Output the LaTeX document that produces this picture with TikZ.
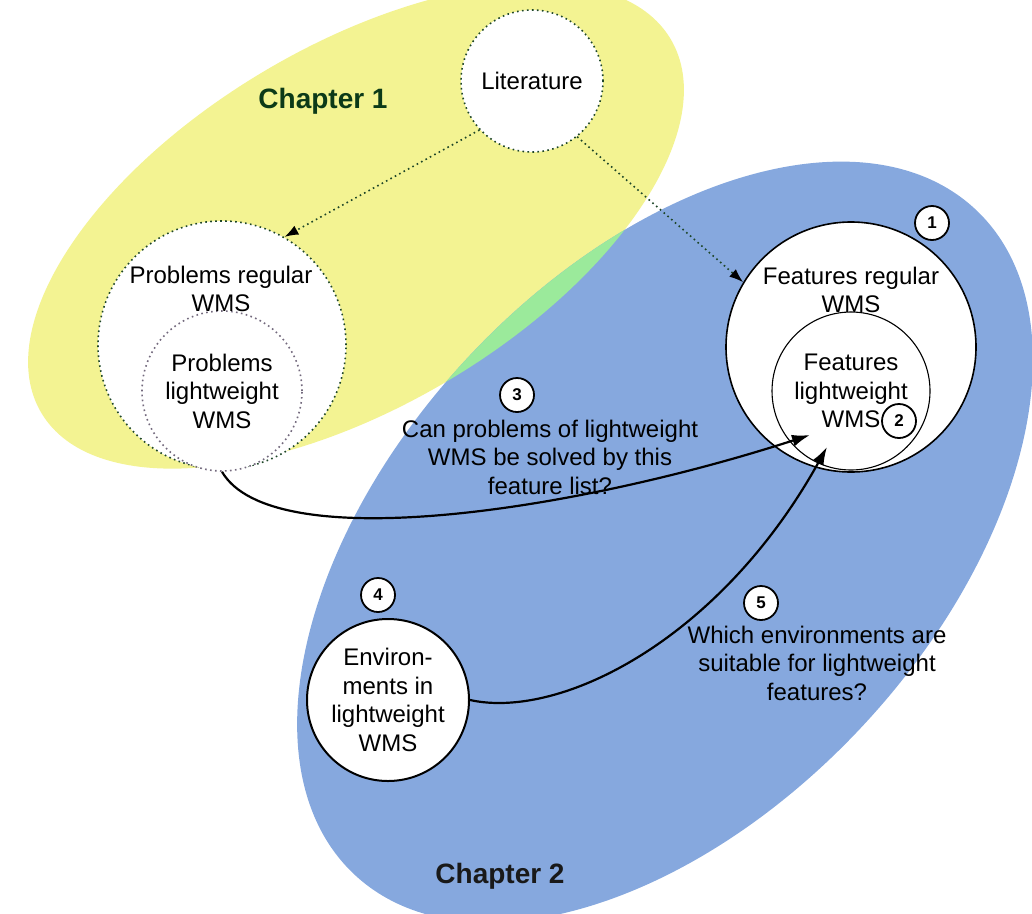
\documentclass[tikz,border=0pt]{standalone}
\usepackage{fontspec}
\setmainfont{Liberation Sans}
\usetikzlibrary{arrows.meta}

\definecolor{chapyellow}{RGB}{243,243,146}
\definecolor{chapblue}{RGB}{134,168,222}
\definecolor{chapgreen}{RGB}{155,234,155}
\definecolor{dotgreen}{RGB}{30,70,40}
\definecolor{dotgrey}{RGB}{115,105,125}
\definecolor{headgreen}{RGB}{12,58,24}

\begin{document}
\begin{tikzpicture}[x=1pt, y=-1pt,
  every node/.style={font=\fontsize{24}{28.5}\selectfont, align=center},
  dotring/.style={circle, draw=dotgreen, line width=1.6pt,
    dash pattern=on 1.6pt off 3.4pt, fill=white, inner sep=0pt},
  greyring/.style={dotring, draw=dotgrey},
  solidring/.style={circle, draw=black, line width=1.6pt, fill=white, inner sep=0pt},
  badge/.style={circle, draw=black, line width=1.8pt, fill=white, inner sep=0pt,
    minimum size=34pt, font=\fontsize{17}{20}\selectfont\bfseries},
  chaplabel/.style={font=\fontsize{28}{32}\selectfont\bfseries},
  dotarrow/.style={draw=dotgreen, line width=1.6pt, dash pattern=on 1.6pt off 3.4pt,
    -{Latex[length=14pt, width=10pt, color=black]}},
  solidarrow/.style={draw=black, line width=2.2pt,
    -{Latex[length=18pt, width=12pt]}},
  yellowarea/.style={rotate around={30.7:(356,226)}},
  bluearea/.style={rotate around={47:(665,542)}}
]
\useasboundingbox (0,0) rectangle (1032,913);

% chapter areas
\begin{scope}
  \clip (0,0) rectangle (1032,913);
  \fill[chapyellow, yellowarea] (356,226) ellipse [x radius=366pt, y radius=180pt];
  \fill[chapblue, bluearea] (665,542) ellipse [x radius=455pt, y radius=270pt];
  \begin{scope}
    \clip[yellowarea] (356,226) ellipse [x radius=366pt, y radius=180pt];
    \fill[chapgreen, bluearea] (665,542) ellipse [x radius=455pt, y radius=270pt];
  \end{scope}
\end{scope}

\node[chaplabel, text=headgreen] (ch1) at (323,101) {Chapter 1};
\node[chaplabel, text=black!90] (ch2) at (500,876) {Chapter 2};

% sources and feature sets
\node[dotring, minimum size=142pt] (lit) at (532,81) {Literature};

\node[dotring, minimum size=248pt] (probreg) at (222,345) {};
\node[greyring, minimum size=160pt] (problw) at (222,391) {Problems\\lightweight\\WMS};
\node (probregtxt) at (221,289) {Problems regular\\WMS};

\node[solidring, minimum size=250pt] (featreg) at (851,347) {};
\node[solidring, line width=1.1pt, minimum size=158pt] (featlw) at (851,391)
  {Features\\lightweight\\WMS};
\node (featregtxt) at (851,290) {Features regular\\WMS};

\node[solidring, line width=2pt, minimum size=162pt] (env) at (388,700)
  {Environ-\\ments in\\lightweight\\WMS};

% questions
\node (q3) at (550,457) {Can problems of lightweight\\WMS be solved by this\\feature list?};
\node (q5) at (817,663) {Which environments are\\suitable for lightweight\\features?};

% numbered steps
\node[badge] (b1) at (932,223) {1};
\node[badge] (b2) at (899,421) {2};
\node[badge] (b3) at (517,395) {3};
\node[badge] (b4) at (378,595) {4};
\node[badge] (b5) at (761,603) {5};

% connectors
\draw[dotarrow] (lit.223) -- (probreg.60);
\draw[dotarrow] (lit.-51) -- (featreg.149);

\coordinate (tipA) at (810,435);
\coordinate (tipB) at (827,447);
\draw[solidarrow] (problw.south) .. controls (272,557) and (572,512) .. (tipA);
\draw[solidarrow] (env.east) .. controls (560,720) and (720,640) .. (tipB);
\end{tikzpicture}
\end{document}
